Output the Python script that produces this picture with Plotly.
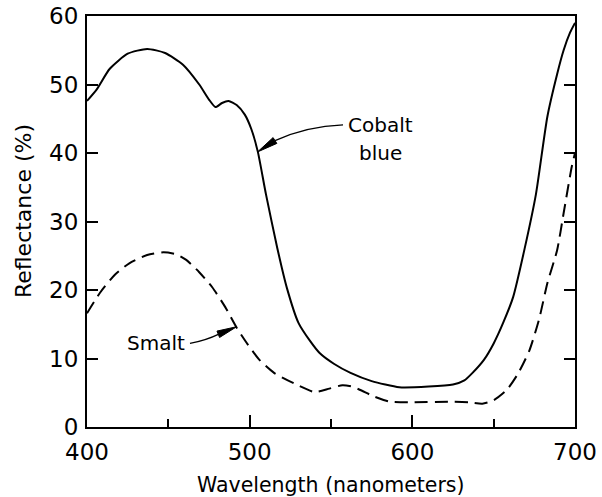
import plotly.graph_objects as go

# Cobalt blue reflectance curve
cobalt_wl = [400, 406, 414, 425, 437, 448, 459, 469, 475, 479, 483, 487, 492, 497, 501, 505,
             510, 517, 523, 530, 537, 543, 552, 562, 575, 592, 610, 625, 632, 637, 644, 650,
             656, 662, 669, 676, 683, 689, 693, 697, 700]
cobalt_val = [47.6, 49.3, 52.3, 54.5, 55.2, 54.6, 52.9, 50.0, 47.8, 46.7, 47.3, 47.6, 47.0, 45.6, 43.5, 40.2,
              34.0, 26.1, 20.2, 15.2, 12.6, 10.8, 9.2, 7.9, 6.7, 5.8, 5.9, 6.2, 6.8, 7.9, 9.8, 12.2,
              15.3, 19.0, 26.0, 34.0, 45.3, 51.5, 55.0, 57.6, 59.0]

# Smalt reflectance curve
smalt_wl = [400, 408, 417, 426, 437, 447, 455, 461, 469, 477, 485, 492, 499, 506, 515, 527,
            540, 549, 557, 563, 568, 577, 586, 600, 623, 635, 643, 650, 658, 665, 672, 678,
            683, 689, 693, 698, 700]
smalt_val = [16.6, 19.6, 22.2, 23.9, 25.1, 25.5, 25.2, 24.4, 22.6, 20.4, 17.5, 14.5, 12.0, 9.8, 7.9, 6.4,
             5.1, 5.6, 6.1, 5.9, 5.4, 4.4, 3.7, 3.6, 3.7, 3.6, 3.4, 3.9, 5.4, 7.8, 11.2, 15.8,
             21.0, 25.8, 31.2, 38.0, 40.0]

x_ticks = [400, 500, 600, 700]
y_ticks = [0, 10, 20, 30, 40, 50, 60]

FONT = "DejaVu Sans"

fig = go.Figure()
fig.add_trace(go.Scatter(x=cobalt_wl, y=cobalt_val, mode="lines", name="Cobalt blue",
                         line=dict(color="black", width=2, shape="spline", smoothing=0.6)))
fig.add_trace(go.Scatter(x=smalt_wl, y=smalt_val, mode="lines", name="Smalt",
                         line=dict(color="black", width=2, shape="spline", smoothing=0.6,
                                   dash="13px,7px")))

# Leader lines and arrowheads
fig.add_shape(type="path", xref="x", yref="y",
              path="M 557.4,44.1 Q 535,43.9 515.6,41.8",
              line=dict(color="black", width=1.3))
fig.add_shape(type="path", xref="x", yref="y",
              path="M 504.8,40.15 L 516.7,41.4 L 514.4,42.25 Z",
              line=dict(color="black", width=1), fillcolor="black")
fig.add_shape(type="path", xref="x", yref="y",
              path="M 463.3,12.2 Q 473.6,12.7 480.7,13.53",
              line=dict(color="black", width=1.3))
fig.add_shape(type="path", xref="x", yref="y",
              path="M 492.0,14.64 L 481.5,13.07 L 479.9,14.0 Z",
              line=dict(color="black", width=1), fillcolor="black")

fig.add_annotation(x=580.7, y=44.1, text="Cobalt", showarrow=False,
                   font=dict(family=FONT, size=20, color="black"))
fig.add_annotation(x=580.7, y=40.0, text="blue", showarrow=False,
                   font=dict(family=FONT, size=20, color="black"))
fig.add_annotation(x=442.6, y=12.3, text="Smalt", showarrow=False,
                   font=dict(family=FONT, size=20, color="black"))

# Axis titles
fig.add_annotation(xref="paper", yref="paper", x=0.5, y=-0.141, yanchor="middle",
                   text="Wavelength (nanometers)", showarrow=False,
                   font=dict(family=FONT, size=20.5, color="black"))
fig.add_annotation(xref="paper", yref="paper", x=-0.131, y=0.5255, xanchor="center",
                   yanchor="middle", textangle=-90,
                   text="Reflectance (%)", showarrow=False,
                   font=dict(family=FONT, size=22, color="black"))

fig.update_layout(
    width=602, height=497,
    margin=dict(l=87, r=27, t=16, b=70, autoexpand=False),
    paper_bgcolor="white", plot_bgcolor="white",
    showlegend=False,
    font=dict(family=FONT, color="black"),
)
fig.update_xaxes(
    range=[400, 700], tickvals=x_ticks, ticktext=[str(v) for v in x_ticks],
    ticks="inside", ticklen=12, tickwidth=2, tickcolor="black",
    minor=dict(ticks="inside", ticklen=8, tickwidth=2, tickcolor="black", dtick=50, tick0=400),
    showline=True, linewidth=2, linecolor="black", mirror=True,
    showgrid=False, zeroline=False, automargin=False,
    tickfont=dict(family=FONT, size=23, color="black"),
    ticklabelstandoff=3,
)
fig.update_yaxes(
    range=[0, 60], tickvals=y_ticks, ticktext=[str(v) for v in y_ticks],
    ticks="inside", ticklen=11, tickwidth=2, tickcolor="black",
    showline=True, linewidth=2, linecolor="black", mirror="ticks",
    showgrid=False, zeroline=False, automargin=False,
    tickfont=dict(family=FONT, size=23, color="black"),
    ticklabelstandoff=2,
)

fig.write_html("out.html", config={"displayModeBar": False},
               post_script="document.body.style.margin='0px';")
